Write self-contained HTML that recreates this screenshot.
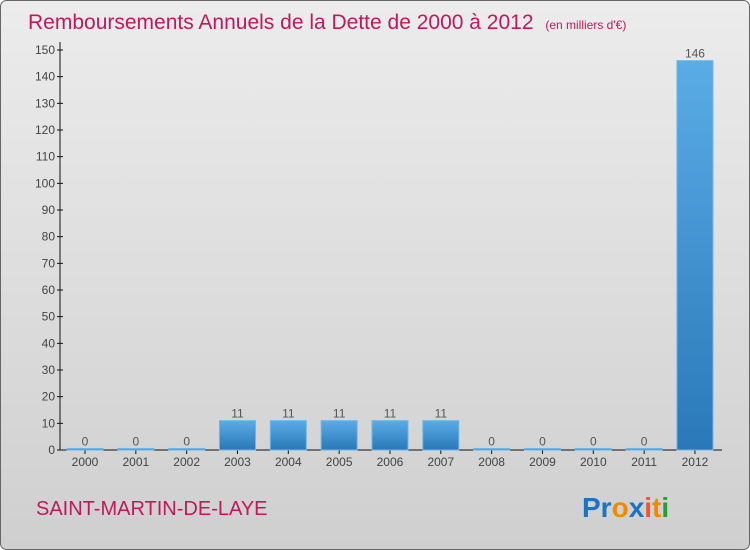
<!DOCTYPE html>
<html><head><meta charset="utf-8"><style>
body{margin:0;width:750px;height:550px;overflow:hidden}
svg{display:block;font-family:"Liberation Sans",sans-serif}
</style></head><body>
<svg width="750" height="550">
<defs>
<linearGradient id="bg" x1="0" y1="0" x2="0" y2="1"><stop offset="0" stop-color="#ececec"/><stop offset="1" stop-color="#cfcfcf"/></linearGradient>
<linearGradient id="bar" x1="0" y1="0" x2="0" y2="1"><stop offset="0" stop-color="#5aace6"/><stop offset="1" stop-color="#2a78b8"/></linearGradient>
</defs>
<rect x="0.5" y="0.5" width="749" height="549" rx="6" fill="url(#bg)" stroke="#666"/>
<text x="28" y="29" font-size="21" fill="#c2185b">Remboursements Annuels de la Dette de 2000 à 2012 <tspan font-size="12" dx="6">(en milliers d'€)</tspan></text>
<g id="axes"></g>
<g id="bars"></g>
<text x="36" y="515" font-size="20" fill="#c2185b">SAINT-MARTIN-DE-LAYE</text>
<text x="582" y="517" font-size="28" font-weight="bold"><tspan fill="#1a73c8">Pr</tspan><tspan fill="#f08a00">o</tspan><tspan fill="#1a73c8">x</tspan><tspan fill="#e53">i</tspan><tspan fill="#f08a00">t</tspan><tspan fill="#2a9a3a">i</tspan></text>
</svg>
<script>
const categories=["2000","2001","2002","2003","2004","2005","2006","2007","2008","2009","2010","2011","2012"];
const values=[0,0,0,11,11,11,11,11,0,0,0,0,146];
const yTicks=[0,10,20,30,40,50,60,70,80,90,100,110,120,130,140,150];
const NS="http://www.w3.org/2000/svg";
const x0=60,y0=450,yTop=50,yMax=150,slot=50.83,first=85,bw=36;
const y=v=>y0-(v/yMax)*(y0-yTop);
const x=i=>first+i*slot;
function mk(t,a,p){const e=document.createElementNS(NS,t);for(const k in a)e.setAttribute(k,a[k]);p.appendChild(e);return e;}
const ax=document.getElementById('axes'),bg=document.getElementById('bars');
const yl=mk('line',{x1:x0,y1:yTop-8,x2:x0,y2:y0,stroke:'#111'},ax);


const xl=mk('line',{x1:x0,y1:y0,x2:722,y2:y0,stroke:'#111'},ax);


yTicks.forEach(t=>{
 mk('line',{x1:x0-3,x2:x0+3,y1:y(t),y2:y(t),stroke:'#111'},ax);
 const tx=mk('text',{x:x0-5,y:y(t)+4,'text-anchor':'end','font-size':12,fill:'#444'},ax);
 tx.textContent=t;
 
 
});
categories.forEach((c,i)=>{
 const cx=x(i),v=values[i];
 mk('line',{x1:cx,x2:cx,y1:y0,y2:y0+4,stroke:'#111'},ax);
 const tl=mk('text',{x:cx,y:y0+16,'text-anchor':'middle','font-size':12,fill:'#444'},ax);
 tl.textContent=c;
 
 
 const h=Math.max(y0-y(v),1.5);
 const r=mk('rect',{x:cx-bw/2,y:y0-h,width:bw,height:h,fill:'url(#bar)',stroke:'#6bb6ea','stroke-width':1},bg);
 
 
 const lb=mk('text',{x:cx,y:y0-h-3,'text-anchor':'middle','font-size':12,fill:'#555'},bg);
 lb.textContent=v;
 
 
});
</script>
</body></html>
